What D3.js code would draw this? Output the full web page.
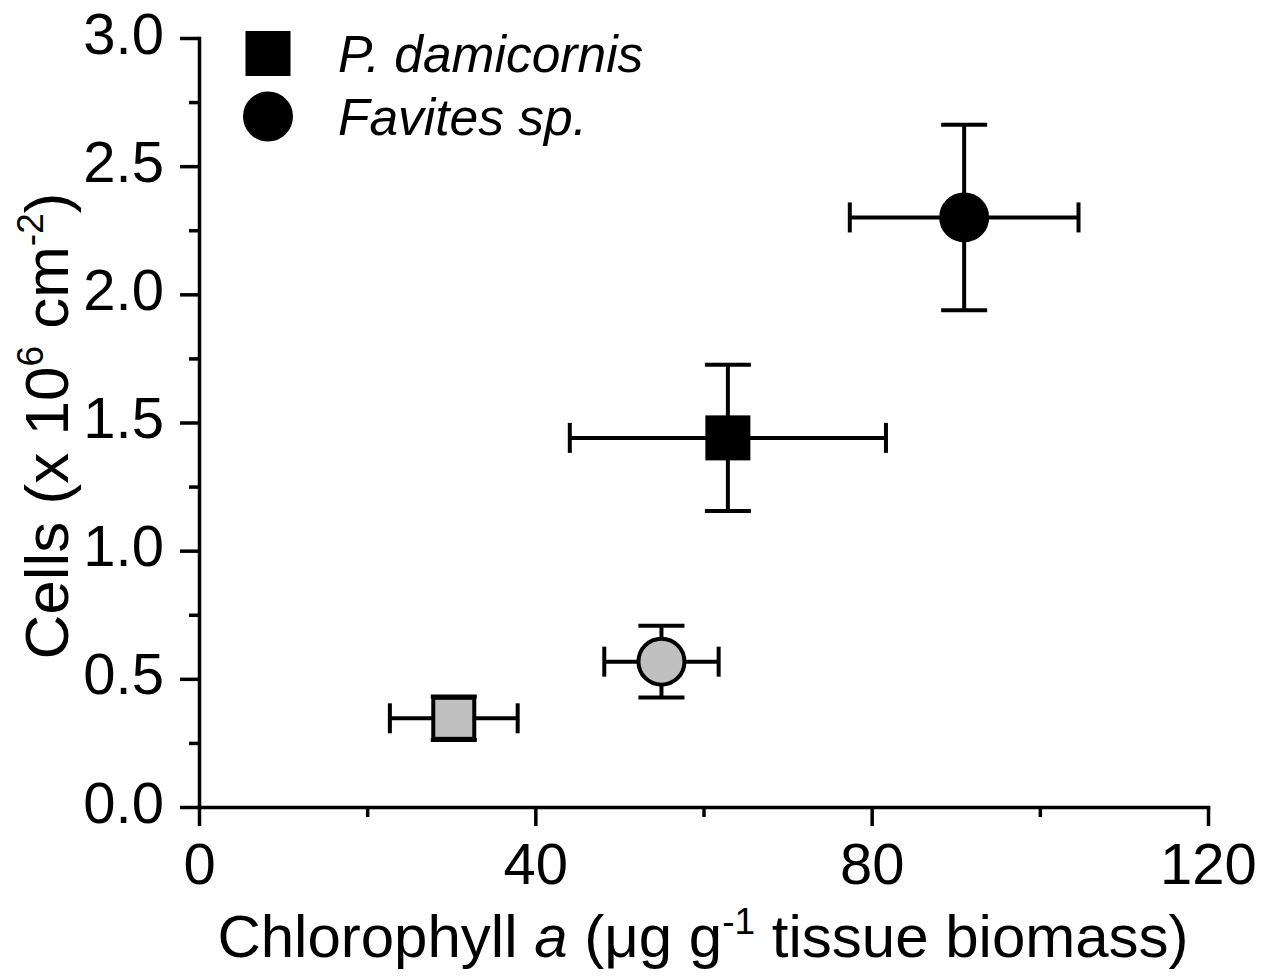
<!DOCTYPE html>
<html>
<head>
<meta charset="utf-8">
<script src="https://cdn.jsdelivr.net/npm/d3@7/dist/d3.min.js"></script>
<style>
  html, body { margin: 0; padding: 0; background: #fff; }
  svg { display: block; }
  text { font-family: "Liberation Sans", Arial, sans-serif; fill: #000; }
</style>
</head>
<body>
<svg id="chart" width="1267" height="977"></svg>
<script>
// ---------------- data ----------------
const speciesNames = ["P. damicornis", "Favites sp."];
const speciesShape = ["square", "circle"];
// points: one per species x treatment
const chlA      = [62.9, 91.0, 30.3, 55.0];     // x: Chlorophyll a (µg g-1)
const chlAErr   = [18.8, 13.6, 7.6, 6.8];
const cells     = [1.44, 2.30, 0.346, 0.567];   // y: cells (x10^6 cm-2)
const cellsErr  = [0.285, 0.362, 0.085, 0.14];
const pointSpecies   = [0, 1, 0, 1];
const pointTreatment = ["dark", "dark", "light", "light"];
const xTicks = [0, 40, 80, 120];
const xMinorTicks = [20, 60, 100];
const yTicks = [0.0, 0.5, 1.0, 1.5, 2.0, 2.5, 3.0];
const yMinorTicks = [0.25, 0.75, 1.25, 1.75, 2.25, 2.75];

// ---------------- styles ----------------
const fillFor = { dark: "#000000", light: "#c0c0c0" };
const AXIS_W = 3.5;
const ERR_W = 4;
const TICK_FS = 58;

const svg = d3.select("#chart");
const x = d3.scaleLinear().domain([0, 120]).range([199, 1208]);
const y = d3.scaleLinear().domain([0, 3]).range([807, 38]);

// ---------------- axes ----------------
const gx = svg.append("g").attr("transform", `translate(0,${y(0)})`)
  .call(d3.axisBottom(x).tickValues(xTicks).tickFormat(d3.format("d")).tickSize(19).tickSizeOuter(0).tickPadding(17));
gx.selectAll(".tick text").attr("font-size", TICK_FS).attr("font-family", "Liberation Sans, Arial, sans-serif").attr("fill", "#000");
const gxm = svg.append("g").attr("transform", `translate(0,${y(0)})`)
  .call(d3.axisBottom(x).tickValues(xMinorTicks).tickFormat("").tickSize(10).tickSizeOuter(0));
gxm.select(".domain").remove();

const gy = svg.append("g").attr("transform", `translate(${x(0)},0)`)
  .call(d3.axisLeft(y).tickValues(yTicks).tickFormat(d3.format(".1f")).tickSize(19).tickSizeOuter(0).tickPadding(16));
gy.selectAll(".tick text").attr("font-size", TICK_FS).attr("dy", "0.26em").attr("font-family", "Liberation Sans, Arial, sans-serif").attr("fill", "#000");
const gym = svg.append("g").attr("transform", `translate(${x(0)},0)`)
  .call(d3.axisLeft(y).tickValues(yMinorTicks).tickFormat("").tickSize(10).tickSizeOuter(0));
gym.select(".domain").remove();

svg.selectAll(".domain, .tick line").attr("stroke", "#000").attr("stroke-width", AXIS_W);
svg.selectAll(".domain").attr("stroke-linecap", "square");

// ---------------- axis titles ----------------
const xt = svg.append("text").attr("x", 703).attr("y", 957).attr("text-anchor", "middle").attr("font-size", 60);
xt.append("tspan").text("Chlorophyll ");
xt.append("tspan").attr("font-style", "italic").text("a");
xt.append("tspan").text(" (μg g");
xt.append("tspan").attr("font-size", 37).attr("dy", -23).text("-1");
xt.append("tspan").attr("dy", 23).text(" tissue biomass)");

const yt = svg.append("text").attr("transform", "translate(68,426) rotate(-90)").attr("text-anchor", "middle").attr("font-size", 62);
yt.append("tspan").text("Cells (x 10");
yt.append("tspan").attr("font-size", 37).attr("dy", -25).text("6");
yt.append("tspan").attr("dy", 25).text(" cm");
yt.append("tspan").attr("font-size", 37).attr("dy", -25).text("-2");
yt.append("tspan").attr("dy", 25).text(")");

// ---------------- error bars ----------------
const idx = d3.range(chlA.length);
const eb = svg.append("g").attr("stroke", "#000").attr("stroke-width", ERR_W).attr("fill", "none");
idx.forEach(i => {
  const cx = x(chlA[i]), cy = y(cells[i]);
  const x0 = x(chlA[i] - chlAErr[i]), x1 = x(chlA[i] + chlAErr[i]);
  const y0 = y(cells[i] - cellsErr[i]), y1 = y(cells[i] + cellsErr[i]);
  const capH = 15, capW = 23;
  eb.append("line").attr("x1", x0).attr("x2", x1).attr("y1", cy).attr("y2", cy);
  eb.append("line").attr("x1", x0).attr("x2", x0).attr("y1", cy - capH).attr("y2", cy + capH);
  eb.append("line").attr("x1", x1).attr("x2", x1).attr("y1", cy - capH).attr("y2", cy + capH);
  eb.append("line").attr("x1", cx).attr("x2", cx).attr("y1", y0).attr("y2", y1);
  eb.append("line").attr("x1", cx - capW).attr("x2", cx + capW).attr("y1", y0).attr("y2", y0);
  eb.append("line").attr("x1", cx - capW).attr("x2", cx + capW).attr("y1", y1).attr("y2", y1);
});

// ---------------- markers ----------------
function drawMarker(g, shape, cx, cy, fill) {
  if (shape === "square") {
    const s = 41;
    g.append("rect").attr("x", cx - s / 2).attr("y", cy - s / 2).attr("width", s).attr("height", s)
      .attr("fill", fill).attr("stroke", "#000").attr("stroke-width", 4);
  } else {
    g.append("circle").attr("cx", cx).attr("cy", cy).attr("r", 23)
      .attr("fill", fill).attr("stroke", "#000").attr("stroke-width", 4);
  }
}
const mk = svg.append("g");
idx.forEach(i => drawMarker(mk, speciesShape[pointSpecies[i]], x(chlA[i]), y(cells[i]), fillFor[pointTreatment[i]]));

// ---------------- legend ----------------
const lg = svg.append("g");
speciesNames.forEach((name, k) => {
  const ly = 53.5 + k * 63;
  drawMarker(lg, speciesShape[k], 268, ly, fillFor.dark);
  lg.append("text").attr("x", 338).attr("y", ly + 18).attr("font-size", 51.5).attr("font-style", "italic").text(name);
});
</script>
</body>
</html>
